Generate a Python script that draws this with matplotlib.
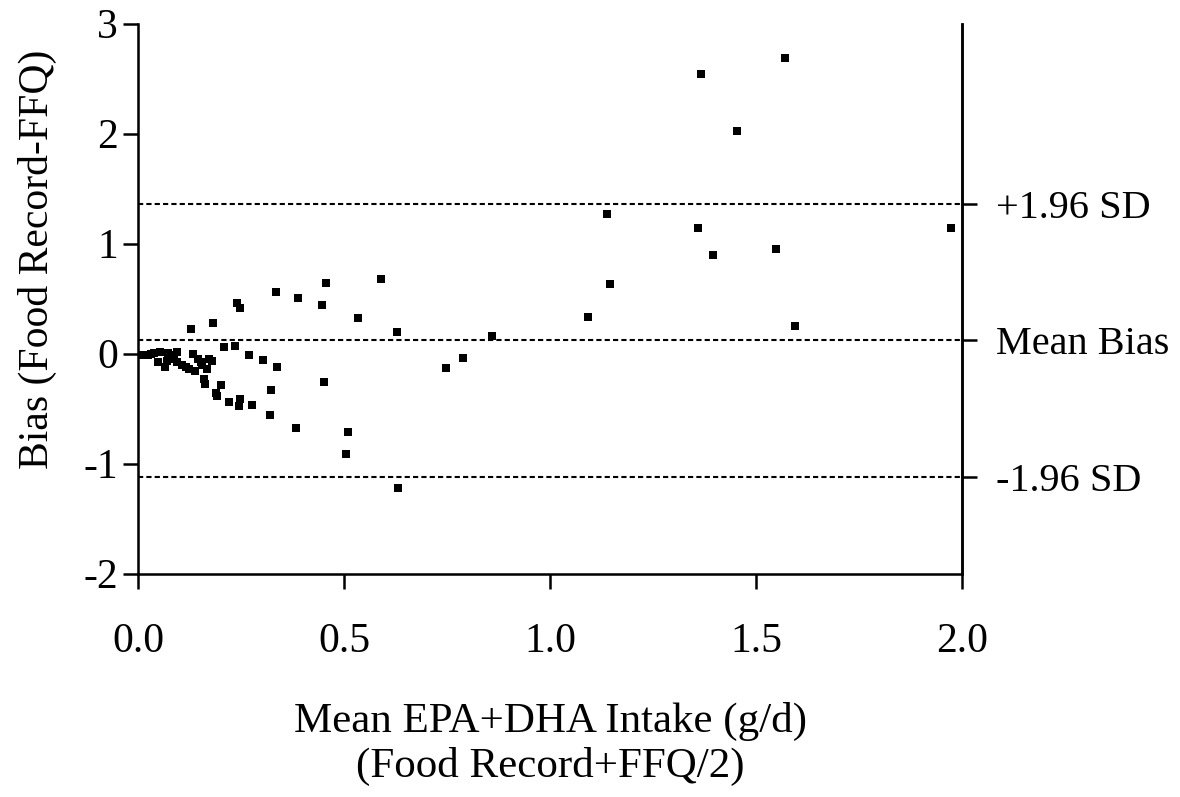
import matplotlib
matplotlib.use("Agg")
import matplotlib.pyplot as plt

plt.rcParams['font.family'] = ['Liberation Serif', 'DejaVu Serif']

# mean intake (x) and bias (y)
mean_intake = [0.007, 0.015, 0.023, 0.031, 0.039, 0.053, 0.071, 0.078, 0.094,
               0.049, 0.065, 0.069, 0.077, 0.086, 0.095, 0.105, 0.116, 0.124,
               0.138, 0.133, 0.146, 0.152, 0.155, 0.166, 0.172, 0.180,
               0.159, 0.162, 0.200, 0.189, 0.192, 0.220, 0.247, 0.244, 0.275,
               0.129, 0.182, 0.208, 0.234, 0.239, 0.248, 0.268, 0.303, 0.337,
               0.322, 0.319, 0.383, 0.451, 0.445, 0.388, 0.455, 0.335, 0.588,
               0.534, 0.629, 0.858, 0.787, 0.748, 0.510, 0.504, 0.631,
               1.091, 1.138, 1.146, 1.358, 1.365, 1.394, 1.454, 1.547, 1.569,
               1.594, 1.972]
bias = [-0.01, -0.01, -0.01, -0.005, 0.003, 0.012, 0.003, -0.018, 0.012,
        -0.08, -0.12, -0.064, -0.034, -0.049, -0.08, -0.10, -0.12, -0.14,
        -0.158, -0.009, -0.049, -0.079, -0.10, -0.137, -0.049, -0.07,
        -0.228, -0.277, -0.29, -0.36, -0.39, -0.44, -0.41, -0.48, -0.47,
        0.22, 0.28, 0.058, 0.064, 0.46, 0.41, -0.01, -0.055, -0.12,
        -0.33, -0.56, -0.68, -0.26, 0.445, 0.505, 0.64, 0.557, 0.68,
        0.32, 0.20, 0.16, -0.037, -0.134, -0.715, -0.91, -1.227,
        0.335, 1.27, 0.633, 1.14, 2.54, 0.90, 2.02, 0.95, 2.69,
        0.247, 1.14]

mean_bias = 0.12
upper_loa = 1.36
lower_loa = -1.12
ref_labels = ["-1.96 SD", "Mean Bias", "+1.96 SD"]

fig = plt.figure(figsize=(11.8, 7.97), dpi=100)
ax = fig.add_axes([138.3/1180, 1-573.5/797, 824/1180, 550/797])

for yv in (lower_loa, mean_bias, upper_loa):
    ax.axhline(yv, color="black", lw=1.5, ls=(0, (2.5, 1.5)), zorder=1)
ax.plot(mean_intake, bias, "s", color="black", ms=5.5, mew=0, zorder=3)

ax.set_xlim(0, 2.0)
ax.set_ylim(-2, 3)
ax.set_xticks([0.0, 0.5, 1.0, 1.5, 2.0])
ax.set_xticklabels(["0.0", "0.5", "1.0", "1.5", "2.0"])
ax.set_yticks([-2, -1, 0, 1, 2, 3])
ax.set_yticklabels(["-2", "-1", "0", "1", "2", "3"])
ax.spines['top'].set_visible(False)
for s in ('left', 'bottom', 'right'):
    ax.spines[s].set_linewidth(1.8)
ax.tick_params(axis='both', direction='out', length=11, width=1.8,
               labelsize=30)
ax.tick_params(axis='y', pad=3.5)
ax.tick_params(axis='x', pad=24)

ax2 = ax.twinx()
ax2.set_ylim(ax.get_ylim())
ax2.set_yticks([lower_loa, mean_bias, upper_loa])
ax2.set_yticklabels(ref_labels)
ax2.spines['top'].set_visible(False)
ax2.spines['right'].set_linewidth(1.8)
ax2.tick_params(axis='y', direction='out', length=11, width=1.8,
                labelsize=29, pad=13)

ax.set_ylabel("Bias (Food Record-FFQ)", fontsize=30)
ax.yaxis.set_label_coords(-0.099, 0.572)
ax.set_xlabel("Mean EPA+DHA Intake (g/d)\n(Food Record+FFQ/2)",
              fontsize=31, labelpad=30, linespacing=1.2)

fig.savefig("out.png", dpi=100, facecolor="white")
